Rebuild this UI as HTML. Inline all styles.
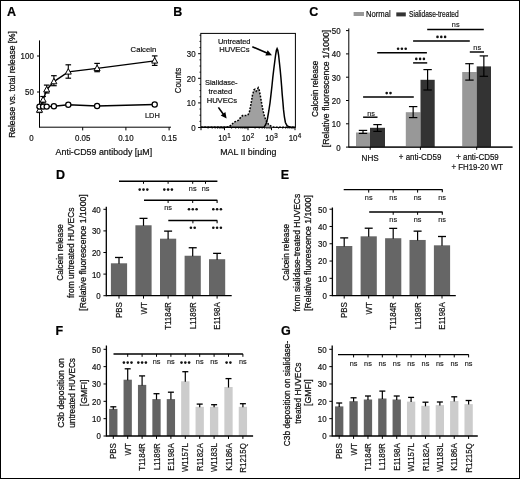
<!DOCTYPE html>
<html><head><meta charset="utf-8"><style>
html,body{margin:0;padding:0;background:#fff;}
body{width:520px;height:479px;overflow:hidden;}
svg{display:block;font-family:"Liberation Sans", sans-serif;will-change:transform;}
</style></head><body>
<svg width="520" height="479" viewBox="0 0 520 479">
<rect x="0" y="0" width="520" height="479" fill="#fff"/>
<rect x="0.5" y="0.5" width="519" height="478" fill="none" stroke="#000" stroke-width="1"/>
<text x="6.90" y="15.70" font-size="12.5" text-anchor="start" font-weight="bold" stroke="#000" stroke-width="0.2" fill="#000" >A</text>
<text x="173.30" y="15.50" font-size="12.5" text-anchor="start" font-weight="bold" stroke="#000" stroke-width="0.2" fill="#000" >B</text>
<text x="309.20" y="15.70" font-size="12.5" text-anchor="start" font-weight="bold" stroke="#000" stroke-width="0.2" fill="#000" >C</text>
<text x="56.00" y="178.70" font-size="12.5" text-anchor="start" font-weight="bold" stroke="#000" stroke-width="0.2" fill="#000" >D</text>
<text x="280.80" y="178.80" font-size="12.5" text-anchor="start" font-weight="bold" stroke="#000" stroke-width="0.2" fill="#000" >E</text>
<text x="55.60" y="334.60" font-size="12.5" text-anchor="start" font-weight="bold" stroke="#000" stroke-width="0.2" fill="#000" >F</text>
<text x="280.90" y="334.70" font-size="12.5" text-anchor="start" font-weight="bold" stroke="#000" stroke-width="0.2" fill="#000" >G</text>
<line x1="39.50" y1="40.40" x2="39.50" y2="127.70" stroke="#000" stroke-width="1" />
<line x1="39.50" y1="127.20" x2="171.00" y2="127.20" stroke="#000" stroke-width="1" />
<line x1="37.00" y1="56.00" x2="39.50" y2="56.00" stroke="#000" stroke-width="1" />
<text x="33.80" y="59.40" font-size="8.8" text-anchor="end" textLength="13.21" lengthAdjust="spacingAndGlyphs" stroke="#111" stroke-width="0.2" fill="#111" >100</text>
<line x1="37.00" y1="92.00" x2="39.50" y2="92.00" stroke="#000" stroke-width="1" />
<text x="33.80" y="95.40" font-size="8.8" text-anchor="end" textLength="8.81" lengthAdjust="spacingAndGlyphs" stroke="#111" stroke-width="0.2" fill="#111" >50</text>
<line x1="82.70" y1="127.20" x2="82.70" y2="130.40" stroke="#000" stroke-width="1" />
<text x="82.70" y="141.00" font-size="8.8" text-anchor="middle" textLength="15.41" lengthAdjust="spacingAndGlyphs" stroke="#111" stroke-width="0.2" fill="#111" >0.05</text>
<line x1="125.90" y1="127.20" x2="125.90" y2="130.40" stroke="#000" stroke-width="1" />
<text x="125.90" y="141.00" font-size="8.8" text-anchor="middle" textLength="15.41" lengthAdjust="spacingAndGlyphs" stroke="#111" stroke-width="0.2" fill="#111" >0.10</text>
<line x1="169.10" y1="127.20" x2="169.10" y2="130.40" stroke="#000" stroke-width="1" />
<text x="169.10" y="141.00" font-size="8.8" text-anchor="middle" textLength="15.41" lengthAdjust="spacingAndGlyphs" stroke="#111" stroke-width="0.2" fill="#111" >0.15</text>
<text x="31.50" y="141.00" font-size="8.8" text-anchor="middle" textLength="4.40" lengthAdjust="spacingAndGlyphs" stroke="#111" stroke-width="0.2" fill="#111" >0</text>
<text x="55.60" y="154.80" font-size="8.8" text-anchor="start" textLength="96.60" lengthAdjust="spacingAndGlyphs" stroke="#111" stroke-width="0.2" fill="#111" >Anti-CD59 antibody [µM]</text>
<text transform="translate(14.90,84.50) rotate(-90)" x="0" y="0" font-size="9.2" text-anchor="middle" textLength="106.60" lengthAdjust="spacingAndGlyphs" stroke="#111" stroke-width="0.27" fill="#111">Release vs. total release [%]</text>
<polyline fill="none" stroke="#000" stroke-width="1.4" points="39.50,106.60 43.10,106.60 46.70,106.60 53.90,106.20 68.30,104.70 97.10,106.00 154.70,104.50"/>
<polyline fill="none" stroke="#000" stroke-width="1.4" points="39.50,110.00 43.10,99.90 46.70,89.70 53.90,81.60 68.30,71.90 97.10,68.40 154.70,60.90"/>
<line x1="39.50" y1="107.50" x2="39.50" y2="112.50" stroke="#000" stroke-width="1.1" />
<line x1="36.70" y1="107.50" x2="42.30" y2="107.50" stroke="#000" stroke-width="1.2" />
<line x1="36.70" y1="112.50" x2="42.30" y2="112.50" stroke="#000" stroke-width="1.2" />
<path d="M39.50,106.70 L42.50,112.20 L36.50,112.20 Z" fill="#fff" stroke="#000" stroke-width="1.0"/>
<line x1="43.10" y1="96.50" x2="43.10" y2="103.00" stroke="#000" stroke-width="1.1" />
<line x1="40.30" y1="96.50" x2="45.90" y2="96.50" stroke="#000" stroke-width="1.2" />
<line x1="40.30" y1="103.00" x2="45.90" y2="103.00" stroke="#000" stroke-width="1.2" />
<path d="M43.10,96.60 L46.10,102.10 L40.10,102.10 Z" fill="#fff" stroke="#000" stroke-width="1.0"/>
<line x1="46.70" y1="85.10" x2="46.70" y2="93.00" stroke="#000" stroke-width="1.1" />
<line x1="43.90" y1="85.10" x2="49.50" y2="85.10" stroke="#000" stroke-width="1.2" />
<line x1="43.90" y1="93.00" x2="49.50" y2="93.00" stroke="#000" stroke-width="1.2" />
<path d="M46.70,86.40 L49.70,91.90 L43.70,91.90 Z" fill="#fff" stroke="#000" stroke-width="1.0"/>
<line x1="53.90" y1="75.70" x2="53.90" y2="85.70" stroke="#000" stroke-width="1.1" />
<line x1="51.10" y1="75.70" x2="56.70" y2="75.70" stroke="#000" stroke-width="1.2" />
<line x1="51.10" y1="85.70" x2="56.70" y2="85.70" stroke="#000" stroke-width="1.2" />
<path d="M53.90,78.30 L56.90,83.80 L50.90,83.80 Z" fill="#fff" stroke="#000" stroke-width="1.0"/>
<line x1="68.30" y1="64.80" x2="68.30" y2="78.20" stroke="#000" stroke-width="1.1" />
<line x1="65.50" y1="64.80" x2="71.10" y2="64.80" stroke="#000" stroke-width="1.2" />
<line x1="65.50" y1="78.20" x2="71.10" y2="78.20" stroke="#000" stroke-width="1.2" />
<path d="M68.30,68.60 L71.30,74.10 L65.30,74.10 Z" fill="#fff" stroke="#000" stroke-width="1.0"/>
<line x1="97.10" y1="63.40" x2="97.10" y2="71.70" stroke="#000" stroke-width="1.1" />
<line x1="94.30" y1="63.40" x2="99.90" y2="63.40" stroke="#000" stroke-width="1.2" />
<line x1="94.30" y1="71.70" x2="99.90" y2="71.70" stroke="#000" stroke-width="1.2" />
<path d="M97.10,65.10 L100.10,70.60 L94.10,70.60 Z" fill="#fff" stroke="#000" stroke-width="1.0"/>
<line x1="154.70" y1="55.90" x2="154.70" y2="65.40" stroke="#000" stroke-width="1.1" />
<line x1="151.90" y1="55.90" x2="157.50" y2="55.90" stroke="#000" stroke-width="1.2" />
<line x1="151.90" y1="65.40" x2="157.50" y2="65.40" stroke="#000" stroke-width="1.2" />
<path d="M154.70,57.60 L157.70,63.10 L151.70,63.10 Z" fill="#fff" stroke="#000" stroke-width="1.0"/>
<circle cx="39.50" cy="106.60" r="2.6" fill="#fff" stroke="#000" stroke-width="1.25"/>
<circle cx="43.10" cy="106.60" r="2.6" fill="#fff" stroke="#000" stroke-width="1.25"/>
<circle cx="46.70" cy="106.60" r="2.6" fill="#fff" stroke="#000" stroke-width="1.25"/>
<circle cx="53.90" cy="106.20" r="2.6" fill="#fff" stroke="#000" stroke-width="1.25"/>
<circle cx="68.30" cy="104.70" r="2.6" fill="#fff" stroke="#000" stroke-width="1.25"/>
<circle cx="97.10" cy="106.00" r="2.6" fill="#fff" stroke="#000" stroke-width="1.25"/>
<circle cx="154.70" cy="104.50" r="2.6" fill="#fff" stroke="#000" stroke-width="1.25"/>
<text x="130.60" y="51.70" font-size="7.8" text-anchor="start" textLength="25.60" lengthAdjust="spacingAndGlyphs" stroke="#111" stroke-width="0.2" fill="#111" >Calcein</text>
<text x="145.00" y="117.90" font-size="7.8" text-anchor="start" textLength="14.80" lengthAdjust="spacingAndGlyphs" stroke="#111" stroke-width="0.2" fill="#111" >LDH</text>
<rect x="200.8" y="33.4" width="94.60" height="94.00" fill="none" stroke="#000" stroke-width="1"/>
<line x1="198.10" y1="127.50" x2="200.80" y2="127.50" stroke="#000" stroke-width="1" />
<line x1="199.50" y1="121.35" x2="200.80" y2="121.35" stroke="#000" stroke-width="0.9" />
<line x1="199.50" y1="115.20" x2="200.80" y2="115.20" stroke="#000" stroke-width="0.9" />
<line x1="199.50" y1="109.05" x2="200.80" y2="109.05" stroke="#000" stroke-width="0.9" />
<line x1="198.10" y1="102.90" x2="200.80" y2="102.90" stroke="#000" stroke-width="1" />
<line x1="199.50" y1="96.75" x2="200.80" y2="96.75" stroke="#000" stroke-width="0.9" />
<line x1="199.50" y1="90.60" x2="200.80" y2="90.60" stroke="#000" stroke-width="0.9" />
<line x1="199.50" y1="84.45" x2="200.80" y2="84.45" stroke="#000" stroke-width="0.9" />
<line x1="198.10" y1="78.30" x2="200.80" y2="78.30" stroke="#000" stroke-width="1" />
<line x1="199.50" y1="72.15" x2="200.80" y2="72.15" stroke="#000" stroke-width="0.9" />
<line x1="199.50" y1="66.00" x2="200.80" y2="66.00" stroke="#000" stroke-width="0.9" />
<line x1="199.50" y1="59.85" x2="200.80" y2="59.85" stroke="#000" stroke-width="0.9" />
<line x1="198.10" y1="53.70" x2="200.80" y2="53.70" stroke="#000" stroke-width="1" />
<line x1="199.50" y1="47.55" x2="200.80" y2="47.55" stroke="#000" stroke-width="0.9" />
<line x1="199.50" y1="41.40" x2="200.80" y2="41.40" stroke="#000" stroke-width="0.9" />
<line x1="199.50" y1="35.25" x2="200.80" y2="35.25" stroke="#000" stroke-width="0.9" />
<text x="195.60" y="130.90" font-size="8.8" text-anchor="end" textLength="4.40" lengthAdjust="spacingAndGlyphs" stroke="#111" stroke-width="0.2" fill="#111" >0</text>
<text x="195.60" y="106.30" font-size="8.8" text-anchor="end" textLength="8.81" lengthAdjust="spacingAndGlyphs" stroke="#111" stroke-width="0.2" fill="#111" >10</text>
<text x="195.60" y="81.70" font-size="8.8" text-anchor="end" textLength="8.81" lengthAdjust="spacingAndGlyphs" stroke="#111" stroke-width="0.2" fill="#111" >20</text>
<text x="195.60" y="57.10" font-size="8.8" text-anchor="end" textLength="8.81" lengthAdjust="spacingAndGlyphs" stroke="#111" stroke-width="0.2" fill="#111" >30</text>
<line x1="201.00" y1="127.40" x2="201.00" y2="130.20" stroke="#000" stroke-width="1" />
<line x1="208.07" y1="127.40" x2="208.07" y2="128.70" stroke="#000" stroke-width="0.8" />
<line x1="212.21" y1="127.40" x2="212.21" y2="128.70" stroke="#000" stroke-width="0.8" />
<line x1="215.15" y1="127.40" x2="215.15" y2="128.70" stroke="#000" stroke-width="0.8" />
<line x1="217.43" y1="127.40" x2="217.43" y2="128.70" stroke="#000" stroke-width="0.8" />
<line x1="219.29" y1="127.40" x2="219.29" y2="128.70" stroke="#000" stroke-width="0.8" />
<line x1="220.86" y1="127.40" x2="220.86" y2="128.70" stroke="#000" stroke-width="0.8" />
<line x1="222.22" y1="127.40" x2="222.22" y2="128.70" stroke="#000" stroke-width="0.8" />
<line x1="223.42" y1="127.40" x2="223.42" y2="128.70" stroke="#000" stroke-width="0.8" />
<line x1="224.50" y1="127.40" x2="224.50" y2="130.20" stroke="#000" stroke-width="1" />
<line x1="231.57" y1="127.40" x2="231.57" y2="128.70" stroke="#000" stroke-width="0.8" />
<line x1="235.71" y1="127.40" x2="235.71" y2="128.70" stroke="#000" stroke-width="0.8" />
<line x1="238.65" y1="127.40" x2="238.65" y2="128.70" stroke="#000" stroke-width="0.8" />
<line x1="240.93" y1="127.40" x2="240.93" y2="128.70" stroke="#000" stroke-width="0.8" />
<line x1="242.79" y1="127.40" x2="242.79" y2="128.70" stroke="#000" stroke-width="0.8" />
<line x1="244.36" y1="127.40" x2="244.36" y2="128.70" stroke="#000" stroke-width="0.8" />
<line x1="245.72" y1="127.40" x2="245.72" y2="128.70" stroke="#000" stroke-width="0.8" />
<line x1="246.92" y1="127.40" x2="246.92" y2="128.70" stroke="#000" stroke-width="0.8" />
<line x1="248.00" y1="127.40" x2="248.00" y2="130.20" stroke="#000" stroke-width="1" />
<line x1="255.07" y1="127.40" x2="255.07" y2="128.70" stroke="#000" stroke-width="0.8" />
<line x1="259.21" y1="127.40" x2="259.21" y2="128.70" stroke="#000" stroke-width="0.8" />
<line x1="262.15" y1="127.40" x2="262.15" y2="128.70" stroke="#000" stroke-width="0.8" />
<line x1="264.43" y1="127.40" x2="264.43" y2="128.70" stroke="#000" stroke-width="0.8" />
<line x1="266.29" y1="127.40" x2="266.29" y2="128.70" stroke="#000" stroke-width="0.8" />
<line x1="267.86" y1="127.40" x2="267.86" y2="128.70" stroke="#000" stroke-width="0.8" />
<line x1="269.22" y1="127.40" x2="269.22" y2="128.70" stroke="#000" stroke-width="0.8" />
<line x1="270.42" y1="127.40" x2="270.42" y2="128.70" stroke="#000" stroke-width="0.8" />
<line x1="271.50" y1="127.40" x2="271.50" y2="130.20" stroke="#000" stroke-width="1" />
<line x1="278.57" y1="127.40" x2="278.57" y2="128.70" stroke="#000" stroke-width="0.8" />
<line x1="282.71" y1="127.40" x2="282.71" y2="128.70" stroke="#000" stroke-width="0.8" />
<line x1="285.65" y1="127.40" x2="285.65" y2="128.70" stroke="#000" stroke-width="0.8" />
<line x1="287.93" y1="127.40" x2="287.93" y2="128.70" stroke="#000" stroke-width="0.8" />
<line x1="289.79" y1="127.40" x2="289.79" y2="128.70" stroke="#000" stroke-width="0.8" />
<line x1="291.36" y1="127.40" x2="291.36" y2="128.70" stroke="#000" stroke-width="0.8" />
<line x1="292.72" y1="127.40" x2="292.72" y2="128.70" stroke="#000" stroke-width="0.8" />
<line x1="293.92" y1="127.40" x2="293.92" y2="128.70" stroke="#000" stroke-width="0.8" />
<line x1="295.00" y1="127.40" x2="295.00" y2="130.20" stroke="#000" stroke-width="1" />
<text x="222.60" y="141.2" font-size="8.8" text-anchor="middle" textLength="8.81" lengthAdjust="spacingAndGlyphs" fill="#111" stroke="#111" stroke-width="0.2">10</text>
<text x="228.90" y="137.8" font-size="6.3" text-anchor="middle" fill="#111" stroke="#111" stroke-width="0.2">1</text>
<text x="246.10" y="141.2" font-size="8.8" text-anchor="middle" textLength="8.81" lengthAdjust="spacingAndGlyphs" fill="#111" stroke="#111" stroke-width="0.2">10</text>
<text x="252.40" y="137.8" font-size="6.3" text-anchor="middle" fill="#111" stroke="#111" stroke-width="0.2">2</text>
<text x="269.60" y="141.2" font-size="8.8" text-anchor="middle" textLength="8.81" lengthAdjust="spacingAndGlyphs" fill="#111" stroke="#111" stroke-width="0.2">10</text>
<text x="275.90" y="137.8" font-size="6.3" text-anchor="middle" fill="#111" stroke="#111" stroke-width="0.2">3</text>
<text x="293.10" y="141.2" font-size="8.8" text-anchor="middle" textLength="8.81" lengthAdjust="spacingAndGlyphs" fill="#111" stroke="#111" stroke-width="0.2">10</text>
<text x="299.40" y="137.8" font-size="6.3" text-anchor="middle" fill="#111" stroke="#111" stroke-width="0.2">4</text>
<text x="220.20" y="155.00" font-size="8.8" text-anchor="start" textLength="56.20" lengthAdjust="spacingAndGlyphs" stroke="#111" stroke-width="0.2" fill="#111" >MAL II binding</text>
<text transform="translate(181.30,80.50) rotate(-90)" x="0" y="0" font-size="8.5" text-anchor="middle" textLength="25.60" lengthAdjust="spacingAndGlyphs" stroke="#111" stroke-width="0.2" fill="#111">Counts</text>
<polygon points="201,127.3 226,127.3 229.5,126.5 232,124.2 234,122.2 236.5,121.2 238.5,120.2 240.5,117.5 242.5,115.6 246.5,115.6 248.2,114.5 249.5,111.5 251,104 252.5,95 254,89.8 255,89.3 256.2,91.2 257.3,89.5 258.2,87.8 259.2,90 260.3,95.5 261.6,103 263,110.5 264.5,116.5 266.5,121.5 269,125 272,126.8 275,127.3 295,127.3" fill="#a0a0a0" stroke="none"/>
<polyline points="201,127.3 226,127.3 229.5,126.5 232,124.2 234,122.2 236.5,121.2 238.5,120.2 240.5,117.5 242.5,115.6 246.5,115.6 248.2,114.5 249.5,111.5 251,104 252.5,95 254,89.8 255,89.3 256.2,91.2 257.3,89.5 258.2,87.8 259.2,90 260.3,95.5 261.6,103 263,110.5 264.5,116.5 266.5,121.5 269,125 272,126.8 275,127.3 295,127.3" fill="none" stroke="#000" stroke-width="1.5" stroke-dasharray="1.8,1.4"/>
<polyline points="201,127.3 264,127.2 265.5,125 266.5,122.5 267.5,118.5 268.8,111 270,103 271,94.4 272,85.5 272.8,77.5 273.8,69 274.7,62 275.6,55 276.4,50.3 277.1,48.6 277.8,50.3 278.6,55 279.4,62.5 280.2,70 280.9,77.5 281.6,86 282.2,94.4 282.9,102 283.5,109.4 284.4,117 285.4,122.5 287,125.6 289,126.8 291,127.3 295,127.3" fill="none" stroke="#000" stroke-width="1.5"/>
<text x="234.20" y="43.50" font-size="7.9" text-anchor="middle" textLength="32.60" lengthAdjust="spacingAndGlyphs" stroke="#111" stroke-width="0.2" fill="#111" >Untreated</text>
<text x="234.40" y="52.40" font-size="7.9" text-anchor="middle" textLength="30.40" lengthAdjust="spacingAndGlyphs" stroke="#111" stroke-width="0.2" fill="#111" >HUVECs</text>
<text x="221.30" y="84.90" font-size="7.9" text-anchor="middle" textLength="32.60" lengthAdjust="spacingAndGlyphs" stroke="#111" stroke-width="0.2" fill="#111" >Sialidase-</text>
<text x="220.40" y="93.60" font-size="7.9" text-anchor="middle" textLength="24.00" lengthAdjust="spacingAndGlyphs" stroke="#111" stroke-width="0.2" fill="#111" >treated</text>
<text x="221.85" y="102.80" font-size="7.9" text-anchor="middle" textLength="30.40" lengthAdjust="spacingAndGlyphs" stroke="#111" stroke-width="0.2" fill="#111" >HUVECs</text>
<line x1="252.30" y1="46.70" x2="266.95" y2="53.02" stroke="#000" stroke-width="1.6" />
<path d="M272.00,55.20 L265.34,55.49 L267.64,50.16 Z" fill="#000"/>
<line x1="218.40" y1="107.40" x2="223.35" y2="114.16" stroke="#000" stroke-width="1.6" />
<path d="M226.60,118.60 L220.72,115.47 L225.40,112.05 Z" fill="#000"/>
<line x1="348.80" y1="28.40" x2="348.80" y2="147.60" stroke="#000" stroke-width="1" />
<line x1="348.80" y1="147.10" x2="512.50" y2="147.10" stroke="#000" stroke-width="1" />
<line x1="346.00" y1="147.10" x2="348.80" y2="147.10" stroke="#000" stroke-width="1" />
<text x="340.60" y="150.50" font-size="8.8" text-anchor="end" textLength="4.40" lengthAdjust="spacingAndGlyphs" stroke="#111" stroke-width="0.2" fill="#111" >0</text>
<line x1="346.00" y1="123.80" x2="348.80" y2="123.80" stroke="#000" stroke-width="1" />
<text x="340.60" y="127.20" font-size="8.8" text-anchor="end" textLength="8.81" lengthAdjust="spacingAndGlyphs" stroke="#111" stroke-width="0.2" fill="#111" >10</text>
<line x1="346.00" y1="100.50" x2="348.80" y2="100.50" stroke="#000" stroke-width="1" />
<text x="340.60" y="103.90" font-size="8.8" text-anchor="end" textLength="8.81" lengthAdjust="spacingAndGlyphs" stroke="#111" stroke-width="0.2" fill="#111" >20</text>
<line x1="346.00" y1="77.20" x2="348.80" y2="77.20" stroke="#000" stroke-width="1" />
<text x="340.60" y="80.60" font-size="8.8" text-anchor="end" textLength="8.81" lengthAdjust="spacingAndGlyphs" stroke="#111" stroke-width="0.2" fill="#111" >30</text>
<line x1="346.00" y1="53.90" x2="348.80" y2="53.90" stroke="#000" stroke-width="1" />
<text x="340.60" y="57.30" font-size="8.8" text-anchor="end" textLength="8.81" lengthAdjust="spacingAndGlyphs" stroke="#111" stroke-width="0.2" fill="#111" >40</text>
<line x1="346.00" y1="30.60" x2="348.80" y2="30.60" stroke="#000" stroke-width="1" />
<text x="340.60" y="34.00" font-size="8.8" text-anchor="end" textLength="8.81" lengthAdjust="spacingAndGlyphs" stroke="#111" stroke-width="0.2" fill="#111" >50</text>
<rect x="356.00" y="132.50" width="14.00" height="14.60" fill="#989898" />
<rect x="370.00" y="127.80" width="15.00" height="19.30" fill="#333333" />
<rect x="405.80" y="112.20" width="14.70" height="34.90" fill="#989898" />
<rect x="420.50" y="79.80" width="14.20" height="67.30" fill="#333333" />
<rect x="462.20" y="72.00" width="14.50" height="75.10" fill="#989898" />
<rect x="476.70" y="66.40" width="14.30" height="80.70" fill="#333333" />
<line x1="363.00" y1="130.40" x2="363.00" y2="133.40" stroke="#000" stroke-width="1.2" />
<line x1="358.80" y1="130.40" x2="367.20" y2="130.40" stroke="#000" stroke-width="1.2" />
<line x1="358.80" y1="133.40" x2="367.20" y2="133.40" stroke="#000" stroke-width="1.2" />
<line x1="377.50" y1="124.60" x2="377.50" y2="131.40" stroke="#000" stroke-width="1.2" />
<line x1="373.30" y1="124.60" x2="381.70" y2="124.60" stroke="#000" stroke-width="1.2" />
<line x1="373.30" y1="131.40" x2="381.70" y2="131.40" stroke="#000" stroke-width="1.2" />
<line x1="413.15" y1="106.60" x2="413.15" y2="117.60" stroke="#000" stroke-width="1.2" />
<line x1="408.95" y1="106.60" x2="417.35" y2="106.60" stroke="#000" stroke-width="1.2" />
<line x1="408.95" y1="117.60" x2="417.35" y2="117.60" stroke="#000" stroke-width="1.2" />
<line x1="427.60" y1="69.60" x2="427.60" y2="90.00" stroke="#000" stroke-width="1.2" />
<line x1="423.40" y1="69.60" x2="431.80" y2="69.60" stroke="#000" stroke-width="1.2" />
<line x1="423.40" y1="90.00" x2="431.80" y2="90.00" stroke="#000" stroke-width="1.2" />
<line x1="469.45" y1="63.70" x2="469.45" y2="80.10" stroke="#000" stroke-width="1.2" />
<line x1="465.25" y1="63.70" x2="473.65" y2="63.70" stroke="#000" stroke-width="1.2" />
<line x1="465.25" y1="80.10" x2="473.65" y2="80.10" stroke="#000" stroke-width="1.2" />
<line x1="483.85" y1="55.90" x2="483.85" y2="76.30" stroke="#000" stroke-width="1.2" />
<line x1="479.65" y1="55.90" x2="488.05" y2="55.90" stroke="#000" stroke-width="1.2" />
<line x1="479.65" y1="76.30" x2="488.05" y2="76.30" stroke="#000" stroke-width="1.2" />
<line x1="348.80" y1="147.10" x2="512.50" y2="147.10" stroke="#000" stroke-width="1" />
<line x1="370.20" y1="147.10" x2="370.20" y2="149.80" stroke="#000" stroke-width="1" />
<line x1="420.40" y1="147.10" x2="420.40" y2="149.80" stroke="#000" stroke-width="1" />
<line x1="476.70" y1="147.10" x2="476.70" y2="149.80" stroke="#000" stroke-width="1" />
<text x="370.20" y="160.50" font-size="8.8" text-anchor="middle" textLength="17.20" lengthAdjust="spacingAndGlyphs" stroke="#111" stroke-width="0.2" fill="#111" >NHS</text>
<text x="420.10" y="160.30" font-size="8.8" text-anchor="middle" textLength="42.60" lengthAdjust="spacingAndGlyphs" stroke="#111" stroke-width="0.2" fill="#111" >+ anti-CD59</text>
<text x="477.50" y="160.10" font-size="8.8" text-anchor="middle" textLength="42.60" lengthAdjust="spacingAndGlyphs" stroke="#111" stroke-width="0.2" fill="#111" >+ anti-CD59</text>
<text x="477.30" y="169.90" font-size="8.8" text-anchor="middle" textLength="51.60" lengthAdjust="spacingAndGlyphs" stroke="#111" stroke-width="0.2" fill="#111" >+ FH19-20 WT</text>
<rect x="353.60" y="12.00" width="10.40" height="4.00" fill="#989898" />
<text x="366.00" y="16.90" font-size="8.5" text-anchor="start" textLength="24.60" lengthAdjust="spacingAndGlyphs" stroke="#111" stroke-width="0.2" fill="#111" >Normal</text>
<rect x="396.30" y="12.40" width="9.50" height="4.00" fill="#333333" />
<text x="409.00" y="16.90" font-size="8.5" text-anchor="start" textLength="49.60" lengthAdjust="spacingAndGlyphs" stroke="#111" stroke-width="0.2" fill="#111" >Sialidase-treated</text>
<line x1="363.10" y1="117.20" x2="377.50" y2="117.20" stroke="#000" stroke-width="1.45" />
<text x="371.00" y="115.70" font-size="7.3" text-anchor="middle" stroke="#111" stroke-width="0.12" fill="#111" >ns</text>
<line x1="363.10" y1="96.90" x2="413.80" y2="96.90" stroke="#000" stroke-width="1.45" />
<circle cx="386.70" cy="93.10" r="1.3" fill="#111"/>
<circle cx="390.50" cy="93.10" r="1.3" fill="#111"/>
<line x1="413.10" y1="62.90" x2="427.20" y2="62.90" stroke="#000" stroke-width="1.45" />
<circle cx="416.30" cy="58.90" r="1.3" fill="#111"/>
<circle cx="420.10" cy="58.90" r="1.3" fill="#111"/>
<circle cx="423.90" cy="58.90" r="1.3" fill="#111"/>
<line x1="377.20" y1="52.80" x2="426.90" y2="52.80" stroke="#000" stroke-width="1.45" />
<circle cx="398.10" cy="48.80" r="1.3" fill="#111"/>
<circle cx="401.90" cy="48.80" r="1.3" fill="#111"/>
<circle cx="405.70" cy="48.80" r="1.3" fill="#111"/>
<line x1="413.10" y1="40.90" x2="469.80" y2="40.90" stroke="#000" stroke-width="1.45" />
<circle cx="437.50" cy="36.90" r="1.3" fill="#111"/>
<circle cx="441.30" cy="36.90" r="1.3" fill="#111"/>
<circle cx="445.10" cy="36.90" r="1.3" fill="#111"/>
<line x1="427.20" y1="29.40" x2="483.80" y2="29.40" stroke="#000" stroke-width="1.45" />
<text x="455.70" y="26.90" font-size="7.3" text-anchor="middle" stroke="#111" stroke-width="0.12" fill="#111" >ns</text>
<line x1="469.80" y1="52.00" x2="484.00" y2="52.00" stroke="#000" stroke-width="1.45" />
<text x="477.20" y="49.60" font-size="7.3" text-anchor="middle" stroke="#111" stroke-width="0.12" fill="#111" >ns</text>
<text transform="translate(317.60,88.80) rotate(-90)" x="0" y="0" font-size="9.2" text-anchor="middle" textLength="56.40" lengthAdjust="spacingAndGlyphs" stroke="#111" stroke-width="0.27" fill="#111">Calcein release</text>
<text transform="translate(329.40,88.50) rotate(-90)" x="0" y="0" font-size="9.2" text-anchor="middle" textLength="117.60" lengthAdjust="spacingAndGlyphs" stroke="#111" stroke-width="0.27" fill="#111">[Relative fluorescence 1/1000]</text>
<line x1="106.30" y1="206.70" x2="106.30" y2="296.30" stroke="#000" stroke-width="1.3" />
<line x1="103.40" y1="295.70" x2="106.30" y2="295.70" stroke="#000" stroke-width="1" />
<text x="100.70" y="299.10" font-size="8.8" text-anchor="end" textLength="4.40" lengthAdjust="spacingAndGlyphs" stroke="#111" stroke-width="0.2" fill="#111" >0</text>
<line x1="103.40" y1="274.10" x2="106.30" y2="274.10" stroke="#000" stroke-width="1" />
<text x="100.70" y="277.50" font-size="8.8" text-anchor="end" textLength="8.81" lengthAdjust="spacingAndGlyphs" stroke="#111" stroke-width="0.2" fill="#111" >10</text>
<line x1="103.40" y1="252.50" x2="106.30" y2="252.50" stroke="#000" stroke-width="1" />
<text x="100.70" y="255.90" font-size="8.8" text-anchor="end" textLength="8.81" lengthAdjust="spacingAndGlyphs" stroke="#111" stroke-width="0.2" fill="#111" >20</text>
<line x1="103.40" y1="230.90" x2="106.30" y2="230.90" stroke="#000" stroke-width="1" />
<text x="100.70" y="234.30" font-size="8.8" text-anchor="end" textLength="8.81" lengthAdjust="spacingAndGlyphs" stroke="#111" stroke-width="0.2" fill="#111" >30</text>
<line x1="103.40" y1="209.30" x2="106.30" y2="209.30" stroke="#000" stroke-width="1" />
<text x="100.70" y="212.70" font-size="8.8" text-anchor="end" textLength="8.81" lengthAdjust="spacingAndGlyphs" stroke="#111" stroke-width="0.2" fill="#111" >40</text>
<rect x="110.90" y="263.30" width="16.20" height="32.40" fill="#666666" />
<rect x="135.40" y="225.28" width="16.20" height="70.42" fill="#666666" />
<rect x="160.00" y="238.68" width="16.20" height="57.02" fill="#666666" />
<rect x="184.60" y="255.74" width="16.20" height="39.96" fill="#666666" />
<rect x="209.00" y="259.20" width="16.20" height="36.50" fill="#666666" />
<line x1="119.00" y1="257.47" x2="119.00" y2="263.80" stroke="#000" stroke-width="1.2" />
<line x1="115.00" y1="257.47" x2="123.00" y2="257.47" stroke="#000" stroke-width="1.3" />
<line x1="143.50" y1="218.37" x2="143.50" y2="225.78" stroke="#000" stroke-width="1.2" />
<line x1="139.50" y1="218.37" x2="147.50" y2="218.37" stroke="#000" stroke-width="1.3" />
<line x1="168.10" y1="231.12" x2="168.10" y2="239.18" stroke="#000" stroke-width="1.2" />
<line x1="164.10" y1="231.12" x2="172.10" y2="231.12" stroke="#000" stroke-width="1.3" />
<line x1="192.70" y1="247.75" x2="192.70" y2="256.24" stroke="#000" stroke-width="1.2" />
<line x1="188.70" y1="247.75" x2="196.70" y2="247.75" stroke="#000" stroke-width="1.3" />
<line x1="217.10" y1="253.36" x2="217.10" y2="259.70" stroke="#000" stroke-width="1.2" />
<line x1="213.10" y1="253.36" x2="221.10" y2="253.36" stroke="#000" stroke-width="1.3" />
<line x1="106.30" y1="295.70" x2="231.70" y2="295.70" stroke="#000" stroke-width="1.3" />
<line x1="119.00" y1="295.70" x2="119.00" y2="298.60" stroke="#000" stroke-width="1" />
<line x1="143.50" y1="295.70" x2="143.50" y2="298.60" stroke="#000" stroke-width="1" />
<line x1="168.10" y1="295.70" x2="168.10" y2="298.60" stroke="#000" stroke-width="1" />
<line x1="192.70" y1="295.70" x2="192.70" y2="298.60" stroke="#000" stroke-width="1" />
<line x1="217.10" y1="295.70" x2="217.10" y2="298.60" stroke="#000" stroke-width="1" />
<text transform="translate(122.10,302.20) rotate(-90)" x="0" y="0" font-size="8.8" text-anchor="end" textLength="15.85" lengthAdjust="spacingAndGlyphs" stroke="#111" stroke-width="0.2" fill="#111">PBS</text>
<text transform="translate(146.60,302.20) rotate(-90)" x="0" y="0" font-size="8.8" text-anchor="end" textLength="12.31" lengthAdjust="spacingAndGlyphs" stroke="#111" stroke-width="0.2" fill="#111">WT</text>
<text transform="translate(171.20,302.20) rotate(-90)" x="0" y="0" font-size="8.8" text-anchor="end" textLength="27.59" lengthAdjust="spacingAndGlyphs" stroke="#111" stroke-width="0.2" fill="#111">T1184R</text>
<text transform="translate(195.80,302.20) rotate(-90)" x="0" y="0" font-size="8.8" text-anchor="end" textLength="27.15" lengthAdjust="spacingAndGlyphs" stroke="#111" stroke-width="0.2" fill="#111">L1189R</text>
<text transform="translate(220.20,302.20) rotate(-90)" x="0" y="0" font-size="8.8" text-anchor="end" textLength="27.60" lengthAdjust="spacingAndGlyphs" stroke="#111" stroke-width="0.2" fill="#111">E1198A</text>
<line x1="119.00" y1="181.20" x2="217.40" y2="181.20" stroke="#000" stroke-width="1.45" />
<line x1="143.50" y1="181.00" x2="143.50" y2="183.80" stroke="#000" stroke-width="1.0" />
<line x1="168.10" y1="181.00" x2="168.10" y2="183.80" stroke="#000" stroke-width="1.0" />
<line x1="192.70" y1="181.00" x2="192.70" y2="183.80" stroke="#000" stroke-width="1.0" />
<line x1="205.50" y1="181.00" x2="205.50" y2="183.80" stroke="#000" stroke-width="1.0" />
<circle cx="139.70" cy="189.60" r="1.3" fill="#111"/>
<circle cx="143.50" cy="189.60" r="1.3" fill="#111"/>
<circle cx="147.30" cy="189.60" r="1.3" fill="#111"/>
<circle cx="164.30" cy="189.60" r="1.3" fill="#111"/>
<circle cx="168.10" cy="189.60" r="1.3" fill="#111"/>
<circle cx="171.90" cy="189.60" r="1.3" fill="#111"/>
<text x="192.70" y="191.20" font-size="7.3" text-anchor="middle" stroke="#111" stroke-width="0.12" fill="#111" >ns</text>
<text x="205.50" y="191.20" font-size="7.3" text-anchor="middle" stroke="#111" stroke-width="0.12" fill="#111" >ns</text>
<line x1="144.00" y1="200.20" x2="217.30" y2="200.20" stroke="#000" stroke-width="1.45" />
<line x1="168.10" y1="200.20" x2="168.10" y2="203.00" stroke="#000" stroke-width="1.0" />
<line x1="192.70" y1="200.20" x2="192.70" y2="203.00" stroke="#000" stroke-width="1.0" />
<line x1="217.10" y1="200.20" x2="217.10" y2="203.00" stroke="#000" stroke-width="1.1" />
<text x="168.10" y="210.40" font-size="7.3" text-anchor="middle" stroke="#111" stroke-width="0.12" fill="#111" >ns</text>
<circle cx="189.00" cy="209.20" r="1.3" fill="#111"/>
<circle cx="192.80" cy="209.20" r="1.3" fill="#111"/>
<circle cx="196.60" cy="209.20" r="1.3" fill="#111"/>
<circle cx="213.30" cy="209.20" r="1.3" fill="#111"/>
<circle cx="217.10" cy="209.20" r="1.3" fill="#111"/>
<circle cx="220.90" cy="209.20" r="1.3" fill="#111"/>
<line x1="168.30" y1="220.50" x2="217.30" y2="220.50" stroke="#000" stroke-width="1.45" />
<line x1="192.90" y1="220.50" x2="192.90" y2="223.30" stroke="#000" stroke-width="1.0" />
<line x1="217.10" y1="220.50" x2="217.10" y2="223.30" stroke="#000" stroke-width="1.1" />
<circle cx="190.90" cy="227.80" r="1.3" fill="#111"/>
<circle cx="194.70" cy="227.80" r="1.3" fill="#111"/>
<circle cx="213.30" cy="227.80" r="1.3" fill="#111"/>
<circle cx="217.10" cy="227.80" r="1.3" fill="#111"/>
<circle cx="220.90" cy="227.80" r="1.3" fill="#111"/>
<text transform="translate(62.70,252.50) rotate(-90)" x="0" y="0" font-size="9.2" text-anchor="middle" textLength="56.60" lengthAdjust="spacingAndGlyphs" stroke="#111" stroke-width="0.27" fill="#111">Calcein release</text>
<text transform="translate(73.90,252.80) rotate(-90)" x="0" y="0" font-size="9.2" text-anchor="middle" textLength="90.60" lengthAdjust="spacingAndGlyphs" stroke="#111" stroke-width="0.27" fill="#111">from untreated HUVECs</text>
<text transform="translate(85.60,252.50) rotate(-90)" x="0" y="0" font-size="9.2" text-anchor="middle" textLength="116.40" lengthAdjust="spacingAndGlyphs" stroke="#111" stroke-width="0.27" fill="#111">[Relative fluorescence 1/1000]</text>
<line x1="332.40" y1="207.50" x2="332.40" y2="296.20" stroke="#000" stroke-width="1.3" />
<line x1="329.50" y1="295.60" x2="332.40" y2="295.60" stroke="#000" stroke-width="1" />
<text x="326.80" y="299.00" font-size="8.8" text-anchor="end" textLength="4.40" lengthAdjust="spacingAndGlyphs" stroke="#111" stroke-width="0.2" fill="#111" >0</text>
<line x1="329.50" y1="278.32" x2="332.40" y2="278.32" stroke="#000" stroke-width="1" />
<text x="326.80" y="281.72" font-size="8.8" text-anchor="end" textLength="8.81" lengthAdjust="spacingAndGlyphs" stroke="#111" stroke-width="0.2" fill="#111" >10</text>
<line x1="329.50" y1="261.04" x2="332.40" y2="261.04" stroke="#000" stroke-width="1" />
<text x="326.80" y="264.44" font-size="8.8" text-anchor="end" textLength="8.81" lengthAdjust="spacingAndGlyphs" stroke="#111" stroke-width="0.2" fill="#111" >20</text>
<line x1="329.50" y1="243.76" x2="332.40" y2="243.76" stroke="#000" stroke-width="1" />
<text x="326.80" y="247.16" font-size="8.8" text-anchor="end" textLength="8.81" lengthAdjust="spacingAndGlyphs" stroke="#111" stroke-width="0.2" fill="#111" >30</text>
<line x1="329.50" y1="226.48" x2="332.40" y2="226.48" stroke="#000" stroke-width="1" />
<text x="326.80" y="229.88" font-size="8.8" text-anchor="end" textLength="8.81" lengthAdjust="spacingAndGlyphs" stroke="#111" stroke-width="0.2" fill="#111" >40</text>
<line x1="329.50" y1="209.20" x2="332.40" y2="209.20" stroke="#000" stroke-width="1" />
<text x="326.80" y="212.60" font-size="8.8" text-anchor="end" textLength="8.81" lengthAdjust="spacingAndGlyphs" stroke="#111" stroke-width="0.2" fill="#111" >50</text>
<rect x="336.10" y="246.01" width="16.20" height="49.59" fill="#666666" />
<rect x="360.60" y="236.33" width="16.20" height="59.27" fill="#666666" />
<rect x="385.10" y="238.23" width="16.20" height="57.37" fill="#666666" />
<rect x="409.50" y="239.96" width="16.20" height="55.64" fill="#666666" />
<rect x="433.90" y="245.32" width="16.20" height="50.28" fill="#666666" />
<line x1="344.20" y1="237.88" x2="344.20" y2="246.51" stroke="#000" stroke-width="1.2" />
<line x1="340.20" y1="237.88" x2="348.20" y2="237.88" stroke="#000" stroke-width="1.3" />
<line x1="368.70" y1="228.21" x2="368.70" y2="236.83" stroke="#000" stroke-width="1.2" />
<line x1="364.70" y1="228.21" x2="372.70" y2="228.21" stroke="#000" stroke-width="1.3" />
<line x1="393.20" y1="228.38" x2="393.20" y2="238.73" stroke="#000" stroke-width="1.2" />
<line x1="389.20" y1="228.38" x2="397.20" y2="228.38" stroke="#000" stroke-width="1.3" />
<line x1="417.60" y1="231.15" x2="417.60" y2="240.46" stroke="#000" stroke-width="1.2" />
<line x1="413.60" y1="231.15" x2="421.60" y2="231.15" stroke="#000" stroke-width="1.3" />
<line x1="442.00" y1="236.50" x2="442.00" y2="245.82" stroke="#000" stroke-width="1.2" />
<line x1="438.00" y1="236.50" x2="446.00" y2="236.50" stroke="#000" stroke-width="1.3" />
<line x1="332.40" y1="295.60" x2="455.80" y2="295.60" stroke="#000" stroke-width="1.3" />
<line x1="344.20" y1="295.60" x2="344.20" y2="298.50" stroke="#000" stroke-width="1" />
<line x1="368.70" y1="295.60" x2="368.70" y2="298.50" stroke="#000" stroke-width="1" />
<line x1="393.20" y1="295.60" x2="393.20" y2="298.50" stroke="#000" stroke-width="1" />
<line x1="417.60" y1="295.60" x2="417.60" y2="298.50" stroke="#000" stroke-width="1" />
<line x1="442.00" y1="295.60" x2="442.00" y2="298.50" stroke="#000" stroke-width="1" />
<text transform="translate(347.30,302.20) rotate(-90)" x="0" y="0" font-size="8.8" text-anchor="end" textLength="15.85" lengthAdjust="spacingAndGlyphs" stroke="#111" stroke-width="0.2" fill="#111">PBS</text>
<text transform="translate(371.80,302.20) rotate(-90)" x="0" y="0" font-size="8.8" text-anchor="end" textLength="12.31" lengthAdjust="spacingAndGlyphs" stroke="#111" stroke-width="0.2" fill="#111">WT</text>
<text transform="translate(396.30,302.20) rotate(-90)" x="0" y="0" font-size="8.8" text-anchor="end" textLength="27.59" lengthAdjust="spacingAndGlyphs" stroke="#111" stroke-width="0.2" fill="#111">T1184R</text>
<text transform="translate(420.70,302.20) rotate(-90)" x="0" y="0" font-size="8.8" text-anchor="end" textLength="27.15" lengthAdjust="spacingAndGlyphs" stroke="#111" stroke-width="0.2" fill="#111">L1189R</text>
<text transform="translate(445.10,302.20) rotate(-90)" x="0" y="0" font-size="8.8" text-anchor="end" textLength="27.60" lengthAdjust="spacingAndGlyphs" stroke="#111" stroke-width="0.2" fill="#111">E1198A</text>
<line x1="343.70" y1="189.60" x2="442.60" y2="189.60" stroke="#000" stroke-width="1.45" />
<line x1="368.70" y1="189.60" x2="368.70" y2="192.60" stroke="#000" stroke-width="1.0" />
<line x1="393.20" y1="189.60" x2="393.20" y2="192.60" stroke="#000" stroke-width="1.0" />
<line x1="417.60" y1="189.60" x2="417.60" y2="192.60" stroke="#000" stroke-width="1.0" />
<line x1="442.30" y1="189.60" x2="442.30" y2="192.30" stroke="#000" stroke-width="1.1" />
<text x="368.70" y="199.60" font-size="7.3" text-anchor="middle" stroke="#111" stroke-width="0.12" fill="#111" >ns</text>
<text x="393.20" y="199.60" font-size="7.3" text-anchor="middle" stroke="#111" stroke-width="0.12" fill="#111" >ns</text>
<text x="417.60" y="199.60" font-size="7.3" text-anchor="middle" stroke="#111" stroke-width="0.12" fill="#111" >ns</text>
<text x="442.00" y="199.60" font-size="7.3" text-anchor="middle" stroke="#111" stroke-width="0.12" fill="#111" >ns</text>
<line x1="369.20" y1="212.00" x2="442.60" y2="212.00" stroke="#000" stroke-width="1.45" />
<line x1="393.20" y1="212.00" x2="393.20" y2="214.80" stroke="#000" stroke-width="1.0" />
<line x1="417.60" y1="212.00" x2="417.60" y2="214.80" stroke="#000" stroke-width="1.0" />
<line x1="442.30" y1="212.00" x2="442.30" y2="214.70" stroke="#000" stroke-width="1.1" />
<text x="393.20" y="221.90" font-size="7.3" text-anchor="middle" stroke="#111" stroke-width="0.12" fill="#111" >ns</text>
<text x="417.60" y="221.90" font-size="7.3" text-anchor="middle" stroke="#111" stroke-width="0.12" fill="#111" >ns</text>
<text x="442.00" y="221.90" font-size="7.3" text-anchor="middle" stroke="#111" stroke-width="0.12" fill="#111" >ns</text>
<text transform="translate(288.90,252.30) rotate(-90)" x="0" y="0" font-size="9.2" text-anchor="middle" textLength="56.90" lengthAdjust="spacingAndGlyphs" stroke="#111" stroke-width="0.27" fill="#111">Calcein release</text>
<text transform="translate(299.90,252.60) rotate(-90)" x="0" y="0" font-size="9.2" text-anchor="middle" textLength="117.60" lengthAdjust="spacingAndGlyphs" stroke="#111" stroke-width="0.27" fill="#111">from sialidase-treated HUVECs</text>
<text transform="translate(311.20,252.90) rotate(-90)" x="0" y="0" font-size="9.2" text-anchor="middle" textLength="115.80" lengthAdjust="spacingAndGlyphs" stroke="#111" stroke-width="0.27" fill="#111">[Relative fluorescence 1/1000]</text>
<line x1="106.40" y1="345.50" x2="106.40" y2="436.60" stroke="#000" stroke-width="1.3" />
<line x1="103.50" y1="436.00" x2="106.40" y2="436.00" stroke="#000" stroke-width="1" />
<text x="100.80" y="439.40" font-size="8.8" text-anchor="end" textLength="4.40" lengthAdjust="spacingAndGlyphs" stroke="#111" stroke-width="0.2" fill="#111" >0</text>
<line x1="103.50" y1="418.66" x2="106.40" y2="418.66" stroke="#000" stroke-width="1" />
<text x="100.80" y="422.06" font-size="8.8" text-anchor="end" textLength="8.81" lengthAdjust="spacingAndGlyphs" stroke="#111" stroke-width="0.2" fill="#111" >10</text>
<line x1="103.50" y1="401.32" x2="106.40" y2="401.32" stroke="#000" stroke-width="1" />
<text x="100.80" y="404.72" font-size="8.8" text-anchor="end" textLength="8.81" lengthAdjust="spacingAndGlyphs" stroke="#111" stroke-width="0.2" fill="#111" >20</text>
<line x1="103.50" y1="383.98" x2="106.40" y2="383.98" stroke="#000" stroke-width="1" />
<text x="100.80" y="387.38" font-size="8.8" text-anchor="end" textLength="8.81" lengthAdjust="spacingAndGlyphs" stroke="#111" stroke-width="0.2" fill="#111" >30</text>
<line x1="103.50" y1="366.64" x2="106.40" y2="366.64" stroke="#000" stroke-width="1" />
<text x="100.80" y="370.04" font-size="8.8" text-anchor="end" textLength="8.81" lengthAdjust="spacingAndGlyphs" stroke="#111" stroke-width="0.2" fill="#111" >40</text>
<line x1="103.50" y1="349.30" x2="106.40" y2="349.30" stroke="#000" stroke-width="1" />
<text x="100.80" y="352.70" font-size="8.8" text-anchor="end" textLength="8.81" lengthAdjust="spacingAndGlyphs" stroke="#111" stroke-width="0.2" fill="#111" >50</text>
<rect x="109.15" y="408.90" width="8.30" height="27.10" fill="#636363" />
<rect x="123.55" y="379.70" width="8.30" height="56.30" fill="#636363" />
<rect x="137.95" y="384.90" width="8.30" height="51.10" fill="#636363" />
<rect x="152.35" y="399.10" width="8.30" height="36.90" fill="#636363" />
<rect x="166.75" y="399.10" width="8.30" height="36.90" fill="#636363" />
<rect x="181.15" y="381.30" width="8.30" height="54.70" fill="#cccccc" />
<rect x="195.55" y="406.80" width="8.30" height="29.20" fill="#cccccc" />
<rect x="209.95" y="406.80" width="8.30" height="29.20" fill="#cccccc" />
<rect x="224.35" y="387.00" width="8.30" height="49.00" fill="#cccccc" />
<rect x="238.75" y="406.80" width="8.30" height="29.20" fill="#cccccc" />
<line x1="113.30" y1="406.80" x2="113.30" y2="409.40" stroke="#000" stroke-width="1.2" />
<line x1="110.30" y1="406.80" x2="116.30" y2="406.80" stroke="#000" stroke-width="1.3" />
<line x1="127.70" y1="368.80" x2="127.70" y2="380.20" stroke="#000" stroke-width="1.2" />
<line x1="124.70" y1="368.80" x2="130.70" y2="368.80" stroke="#000" stroke-width="1.3" />
<line x1="142.10" y1="375.90" x2="142.10" y2="385.40" stroke="#000" stroke-width="1.2" />
<line x1="139.10" y1="375.90" x2="145.10" y2="375.90" stroke="#000" stroke-width="1.3" />
<line x1="156.50" y1="393.70" x2="156.50" y2="399.60" stroke="#000" stroke-width="1.2" />
<line x1="153.50" y1="393.70" x2="159.50" y2="393.70" stroke="#000" stroke-width="1.3" />
<line x1="170.90" y1="392.20" x2="170.90" y2="399.60" stroke="#000" stroke-width="1.2" />
<line x1="167.90" y1="392.20" x2="173.90" y2="392.20" stroke="#000" stroke-width="1.3" />
<line x1="185.30" y1="371.70" x2="185.30" y2="381.80" stroke="#000" stroke-width="1.2" />
<line x1="182.30" y1="371.70" x2="188.30" y2="371.70" stroke="#000" stroke-width="1.3" />
<line x1="199.70" y1="404.10" x2="199.70" y2="407.30" stroke="#000" stroke-width="1.2" />
<line x1="196.70" y1="404.10" x2="202.70" y2="404.10" stroke="#000" stroke-width="1.3" />
<line x1="214.10" y1="404.70" x2="214.10" y2="407.30" stroke="#000" stroke-width="1.2" />
<line x1="211.10" y1="404.70" x2="217.10" y2="404.70" stroke="#000" stroke-width="1.3" />
<line x1="228.50" y1="378.60" x2="228.50" y2="387.50" stroke="#000" stroke-width="1.2" />
<line x1="225.50" y1="378.60" x2="231.50" y2="378.60" stroke="#000" stroke-width="1.3" />
<line x1="242.90" y1="403.70" x2="242.90" y2="407.30" stroke="#000" stroke-width="1.2" />
<line x1="239.90" y1="403.70" x2="245.90" y2="403.70" stroke="#000" stroke-width="1.3" />
<line x1="106.40" y1="436.00" x2="253.10" y2="436.00" stroke="#000" stroke-width="1.3" />
<line x1="113.30" y1="436.00" x2="113.30" y2="438.90" stroke="#000" stroke-width="1" />
<line x1="127.70" y1="436.00" x2="127.70" y2="438.90" stroke="#000" stroke-width="1" />
<line x1="142.10" y1="436.00" x2="142.10" y2="438.90" stroke="#000" stroke-width="1" />
<line x1="156.50" y1="436.00" x2="156.50" y2="438.90" stroke="#000" stroke-width="1" />
<line x1="170.90" y1="436.00" x2="170.90" y2="438.90" stroke="#000" stroke-width="1" />
<line x1="185.30" y1="436.00" x2="185.30" y2="438.90" stroke="#000" stroke-width="1" />
<line x1="199.70" y1="436.00" x2="199.70" y2="438.90" stroke="#000" stroke-width="1" />
<line x1="214.10" y1="436.00" x2="214.10" y2="438.90" stroke="#000" stroke-width="1" />
<line x1="228.50" y1="436.00" x2="228.50" y2="438.90" stroke="#000" stroke-width="1" />
<line x1="242.90" y1="436.00" x2="242.90" y2="438.90" stroke="#000" stroke-width="1" />
<text transform="translate(116.40,443.20) rotate(-90)" x="0" y="0" font-size="8.8" text-anchor="end" textLength="15.85" lengthAdjust="spacingAndGlyphs" stroke="#111" stroke-width="0.2" fill="#111">PBS</text>
<text transform="translate(130.80,443.20) rotate(-90)" x="0" y="0" font-size="8.8" text-anchor="end" textLength="12.31" lengthAdjust="spacingAndGlyphs" stroke="#111" stroke-width="0.2" fill="#111">WT</text>
<text transform="translate(145.20,443.20) rotate(-90)" x="0" y="0" font-size="8.8" text-anchor="end" textLength="27.59" lengthAdjust="spacingAndGlyphs" stroke="#111" stroke-width="0.2" fill="#111">T1184R</text>
<text transform="translate(159.60,443.20) rotate(-90)" x="0" y="0" font-size="8.8" text-anchor="end" textLength="27.15" lengthAdjust="spacingAndGlyphs" stroke="#111" stroke-width="0.2" fill="#111">L1189R</text>
<text transform="translate(174.00,443.20) rotate(-90)" x="0" y="0" font-size="8.8" text-anchor="end" textLength="27.60" lengthAdjust="spacingAndGlyphs" stroke="#111" stroke-width="0.2" fill="#111">E1198A</text>
<text transform="translate(188.40,443.20) rotate(-90)" x="0" y="0" font-size="8.8" text-anchor="end" textLength="28.91" lengthAdjust="spacingAndGlyphs" stroke="#111" stroke-width="0.2" fill="#111">W1157L</text>
<text transform="translate(202.80,443.20) rotate(-90)" x="0" y="0" font-size="8.8" text-anchor="end" textLength="28.03" lengthAdjust="spacingAndGlyphs" stroke="#111" stroke-width="0.2" fill="#111">R1182A</text>
<text transform="translate(217.20,443.20) rotate(-90)" x="0" y="0" font-size="8.8" text-anchor="end" textLength="28.91" lengthAdjust="spacingAndGlyphs" stroke="#111" stroke-width="0.2" fill="#111">W1183L</text>
<text transform="translate(231.60,443.20) rotate(-90)" x="0" y="0" font-size="8.8" text-anchor="end" textLength="27.60" lengthAdjust="spacingAndGlyphs" stroke="#111" stroke-width="0.2" fill="#111">K1186A</text>
<text transform="translate(246.00,443.20) rotate(-90)" x="0" y="0" font-size="8.8" text-anchor="end" textLength="29.50" lengthAdjust="spacingAndGlyphs" stroke="#111" stroke-width="0.2" fill="#111">R1215Q</text>
<line x1="113.50" y1="353.90" x2="242.90" y2="353.90" stroke="#000" stroke-width="1.45" />
<line x1="127.70" y1="353.90" x2="127.70" y2="356.80" stroke="#000" stroke-width="1.0" />
<line x1="142.10" y1="353.90" x2="142.10" y2="356.80" stroke="#000" stroke-width="1.0" />
<line x1="156.50" y1="353.90" x2="156.50" y2="356.80" stroke="#000" stroke-width="1.0" />
<line x1="170.90" y1="353.90" x2="170.90" y2="356.80" stroke="#000" stroke-width="1.0" />
<line x1="185.30" y1="353.90" x2="185.30" y2="356.80" stroke="#000" stroke-width="1.0" />
<line x1="199.70" y1="353.90" x2="199.70" y2="356.80" stroke="#000" stroke-width="1.0" />
<line x1="214.10" y1="353.90" x2="214.10" y2="356.80" stroke="#000" stroke-width="1.0" />
<line x1="228.50" y1="353.90" x2="228.50" y2="356.80" stroke="#000" stroke-width="1.0" />
<line x1="242.90" y1="353.90" x2="242.90" y2="356.80" stroke="#000" stroke-width="1.0" />
<circle cx="123.90" cy="362.60" r="1.3" fill="#111"/>
<circle cx="127.70" cy="362.60" r="1.3" fill="#111"/>
<circle cx="131.50" cy="362.60" r="1.3" fill="#111"/>
<circle cx="138.30" cy="362.60" r="1.3" fill="#111"/>
<circle cx="142.10" cy="362.60" r="1.3" fill="#111"/>
<circle cx="145.90" cy="362.60" r="1.3" fill="#111"/>
<text x="156.50" y="363.60" font-size="7.3" text-anchor="middle" stroke="#111" stroke-width="0.12" fill="#111" >ns</text>
<text x="170.90" y="363.60" font-size="7.3" text-anchor="middle" stroke="#111" stroke-width="0.12" fill="#111" >ns</text>
<circle cx="181.50" cy="362.60" r="1.3" fill="#111"/>
<circle cx="185.30" cy="362.60" r="1.3" fill="#111"/>
<circle cx="189.10" cy="362.60" r="1.3" fill="#111"/>
<text x="199.70" y="363.60" font-size="7.3" text-anchor="middle" stroke="#111" stroke-width="0.12" fill="#111" >ns</text>
<text x="214.10" y="363.60" font-size="7.3" text-anchor="middle" stroke="#111" stroke-width="0.12" fill="#111" >ns</text>
<circle cx="226.60" cy="362.60" r="1.3" fill="#111"/>
<circle cx="230.40" cy="362.60" r="1.3" fill="#111"/>
<text x="242.90" y="363.60" font-size="7.3" text-anchor="middle" stroke="#111" stroke-width="0.12" fill="#111" >ns</text>
<text transform="translate(64.20,393.00) rotate(-90)" x="0" y="0" font-size="9.2" text-anchor="middle" textLength="69.40" lengthAdjust="spacingAndGlyphs" stroke="#111" stroke-width="0.27" fill="#111">C3b deposition on</text>
<text transform="translate(75.30,392.90) rotate(-90)" x="0" y="0" font-size="9.2" text-anchor="middle" textLength="69.60" lengthAdjust="spacingAndGlyphs" stroke="#111" stroke-width="0.27" fill="#111">untreated HUVECs</text>
<text transform="translate(86.60,392.90) rotate(-90)" x="0" y="0" font-size="9.2" text-anchor="middle" textLength="26.80" lengthAdjust="spacingAndGlyphs" stroke="#111" stroke-width="0.27" fill="#111">[GMFI]</text>
<line x1="332.20" y1="345.50" x2="332.20" y2="436.60" stroke="#000" stroke-width="1.3" />
<line x1="329.30" y1="436.00" x2="332.20" y2="436.00" stroke="#000" stroke-width="1" />
<text x="326.60" y="439.40" font-size="8.8" text-anchor="end" textLength="4.40" lengthAdjust="spacingAndGlyphs" stroke="#111" stroke-width="0.2" fill="#111" >0</text>
<line x1="329.30" y1="418.66" x2="332.20" y2="418.66" stroke="#000" stroke-width="1" />
<text x="326.60" y="422.06" font-size="8.8" text-anchor="end" textLength="8.81" lengthAdjust="spacingAndGlyphs" stroke="#111" stroke-width="0.2" fill="#111" >10</text>
<line x1="329.30" y1="401.32" x2="332.20" y2="401.32" stroke="#000" stroke-width="1" />
<text x="326.60" y="404.72" font-size="8.8" text-anchor="end" textLength="8.81" lengthAdjust="spacingAndGlyphs" stroke="#111" stroke-width="0.2" fill="#111" >20</text>
<line x1="329.30" y1="383.98" x2="332.20" y2="383.98" stroke="#000" stroke-width="1" />
<text x="326.60" y="387.38" font-size="8.8" text-anchor="end" textLength="8.81" lengthAdjust="spacingAndGlyphs" stroke="#111" stroke-width="0.2" fill="#111" >30</text>
<line x1="329.30" y1="366.64" x2="332.20" y2="366.64" stroke="#000" stroke-width="1" />
<text x="326.60" y="370.04" font-size="8.8" text-anchor="end" textLength="8.81" lengthAdjust="spacingAndGlyphs" stroke="#111" stroke-width="0.2" fill="#111" >40</text>
<line x1="329.30" y1="349.30" x2="332.20" y2="349.30" stroke="#000" stroke-width="1" />
<text x="326.60" y="352.70" font-size="8.8" text-anchor="end" textLength="8.81" lengthAdjust="spacingAndGlyphs" stroke="#111" stroke-width="0.2" fill="#111" >50</text>
<rect x="335.05" y="406.40" width="8.30" height="29.60" fill="#636363" />
<rect x="349.43" y="401.20" width="8.30" height="34.80" fill="#636363" />
<rect x="363.81" y="399.50" width="8.30" height="36.50" fill="#636363" />
<rect x="378.19" y="398.50" width="8.30" height="37.50" fill="#636363" />
<rect x="392.57" y="399.50" width="8.30" height="36.50" fill="#636363" />
<rect x="406.95" y="401.60" width="8.30" height="34.40" fill="#cccccc" />
<rect x="421.33" y="405.80" width="8.30" height="30.20" fill="#cccccc" />
<rect x="435.71" y="405.10" width="8.30" height="30.90" fill="#cccccc" />
<rect x="450.09" y="401.00" width="8.30" height="35.00" fill="#cccccc" />
<rect x="464.47" y="404.10" width="8.30" height="31.90" fill="#cccccc" />
<line x1="339.20" y1="403.00" x2="339.20" y2="406.90" stroke="#000" stroke-width="1.2" />
<line x1="336.20" y1="403.00" x2="342.20" y2="403.00" stroke="#000" stroke-width="1.3" />
<line x1="353.58" y1="397.80" x2="353.58" y2="401.70" stroke="#000" stroke-width="1.2" />
<line x1="350.58" y1="397.80" x2="356.58" y2="397.80" stroke="#000" stroke-width="1.3" />
<line x1="367.96" y1="396.00" x2="367.96" y2="400.00" stroke="#000" stroke-width="1.2" />
<line x1="364.96" y1="396.00" x2="370.96" y2="396.00" stroke="#000" stroke-width="1.3" />
<line x1="382.34" y1="391.10" x2="382.34" y2="399.00" stroke="#000" stroke-width="1.2" />
<line x1="379.34" y1="391.10" x2="385.34" y2="391.10" stroke="#000" stroke-width="1.3" />
<line x1="396.72" y1="396.00" x2="396.72" y2="400.00" stroke="#000" stroke-width="1.2" />
<line x1="393.72" y1="396.00" x2="399.72" y2="396.00" stroke="#000" stroke-width="1.3" />
<line x1="411.10" y1="397.40" x2="411.10" y2="402.10" stroke="#000" stroke-width="1.2" />
<line x1="408.10" y1="397.40" x2="414.10" y2="397.40" stroke="#000" stroke-width="1.3" />
<line x1="425.48" y1="402.20" x2="425.48" y2="406.30" stroke="#000" stroke-width="1.2" />
<line x1="422.48" y1="402.20" x2="428.48" y2="402.20" stroke="#000" stroke-width="1.3" />
<line x1="439.86" y1="402.00" x2="439.86" y2="405.60" stroke="#000" stroke-width="1.2" />
<line x1="436.86" y1="402.00" x2="442.86" y2="402.00" stroke="#000" stroke-width="1.3" />
<line x1="454.24" y1="396.80" x2="454.24" y2="401.50" stroke="#000" stroke-width="1.2" />
<line x1="451.24" y1="396.80" x2="457.24" y2="396.80" stroke="#000" stroke-width="1.3" />
<line x1="468.62" y1="400.50" x2="468.62" y2="404.60" stroke="#000" stroke-width="1.2" />
<line x1="465.62" y1="400.50" x2="471.62" y2="400.50" stroke="#000" stroke-width="1.3" />
<line x1="332.20" y1="436.00" x2="477.80" y2="436.00" stroke="#000" stroke-width="1.3" />
<line x1="339.20" y1="436.00" x2="339.20" y2="438.90" stroke="#000" stroke-width="1" />
<line x1="353.58" y1="436.00" x2="353.58" y2="438.90" stroke="#000" stroke-width="1" />
<line x1="367.96" y1="436.00" x2="367.96" y2="438.90" stroke="#000" stroke-width="1" />
<line x1="382.34" y1="436.00" x2="382.34" y2="438.90" stroke="#000" stroke-width="1" />
<line x1="396.72" y1="436.00" x2="396.72" y2="438.90" stroke="#000" stroke-width="1" />
<line x1="411.10" y1="436.00" x2="411.10" y2="438.90" stroke="#000" stroke-width="1" />
<line x1="425.48" y1="436.00" x2="425.48" y2="438.90" stroke="#000" stroke-width="1" />
<line x1="439.86" y1="436.00" x2="439.86" y2="438.90" stroke="#000" stroke-width="1" />
<line x1="454.24" y1="436.00" x2="454.24" y2="438.90" stroke="#000" stroke-width="1" />
<line x1="468.62" y1="436.00" x2="468.62" y2="438.90" stroke="#000" stroke-width="1" />
<text transform="translate(342.30,443.20) rotate(-90)" x="0" y="0" font-size="8.8" text-anchor="end" textLength="15.85" lengthAdjust="spacingAndGlyphs" stroke="#111" stroke-width="0.2" fill="#111">PBS</text>
<text transform="translate(356.68,443.20) rotate(-90)" x="0" y="0" font-size="8.8" text-anchor="end" textLength="12.31" lengthAdjust="spacingAndGlyphs" stroke="#111" stroke-width="0.2" fill="#111">WT</text>
<text transform="translate(371.06,443.20) rotate(-90)" x="0" y="0" font-size="8.8" text-anchor="end" textLength="27.59" lengthAdjust="spacingAndGlyphs" stroke="#111" stroke-width="0.2" fill="#111">T1184R</text>
<text transform="translate(385.44,443.20) rotate(-90)" x="0" y="0" font-size="8.8" text-anchor="end" textLength="27.15" lengthAdjust="spacingAndGlyphs" stroke="#111" stroke-width="0.2" fill="#111">L1189R</text>
<text transform="translate(399.82,443.20) rotate(-90)" x="0" y="0" font-size="8.8" text-anchor="end" textLength="27.60" lengthAdjust="spacingAndGlyphs" stroke="#111" stroke-width="0.2" fill="#111">E1198A</text>
<text transform="translate(414.20,443.20) rotate(-90)" x="0" y="0" font-size="8.8" text-anchor="end" textLength="28.91" lengthAdjust="spacingAndGlyphs" stroke="#111" stroke-width="0.2" fill="#111">W1157L</text>
<text transform="translate(428.58,443.20) rotate(-90)" x="0" y="0" font-size="8.8" text-anchor="end" textLength="28.03" lengthAdjust="spacingAndGlyphs" stroke="#111" stroke-width="0.2" fill="#111">R1182A</text>
<text transform="translate(442.96,443.20) rotate(-90)" x="0" y="0" font-size="8.8" text-anchor="end" textLength="28.91" lengthAdjust="spacingAndGlyphs" stroke="#111" stroke-width="0.2" fill="#111">W1183L</text>
<text transform="translate(457.34,443.20) rotate(-90)" x="0" y="0" font-size="8.8" text-anchor="end" textLength="27.60" lengthAdjust="spacingAndGlyphs" stroke="#111" stroke-width="0.2" fill="#111">K1186A</text>
<text transform="translate(471.72,443.20) rotate(-90)" x="0" y="0" font-size="8.8" text-anchor="end" textLength="29.50" lengthAdjust="spacingAndGlyphs" stroke="#111" stroke-width="0.2" fill="#111">R1215Q</text>
<line x1="338.00" y1="354.60" x2="468.80" y2="354.60" stroke="#000" stroke-width="1.45" />
<line x1="353.58" y1="354.60" x2="353.58" y2="357.40" stroke="#000" stroke-width="1.0" />
<line x1="367.96" y1="354.60" x2="367.96" y2="357.40" stroke="#000" stroke-width="1.0" />
<line x1="382.34" y1="354.60" x2="382.34" y2="357.40" stroke="#000" stroke-width="1.0" />
<line x1="396.72" y1="354.60" x2="396.72" y2="357.40" stroke="#000" stroke-width="1.0" />
<line x1="411.10" y1="354.60" x2="411.10" y2="357.40" stroke="#000" stroke-width="1.0" />
<line x1="425.48" y1="354.60" x2="425.48" y2="357.40" stroke="#000" stroke-width="1.0" />
<line x1="439.86" y1="354.60" x2="439.86" y2="357.40" stroke="#000" stroke-width="1.0" />
<line x1="454.24" y1="354.60" x2="454.24" y2="357.40" stroke="#000" stroke-width="1.0" />
<line x1="468.62" y1="354.60" x2="468.62" y2="357.40" stroke="#000" stroke-width="1.0" />
<text x="353.58" y="366.30" font-size="7.3" text-anchor="middle" stroke="#111" stroke-width="0.12" fill="#111" >ns</text>
<text x="367.96" y="366.30" font-size="7.3" text-anchor="middle" stroke="#111" stroke-width="0.12" fill="#111" >ns</text>
<text x="382.34" y="366.30" font-size="7.3" text-anchor="middle" stroke="#111" stroke-width="0.12" fill="#111" >ns</text>
<text x="396.72" y="366.30" font-size="7.3" text-anchor="middle" stroke="#111" stroke-width="0.12" fill="#111" >ns</text>
<text x="411.10" y="366.30" font-size="7.3" text-anchor="middle" stroke="#111" stroke-width="0.12" fill="#111" >ns</text>
<text x="425.48" y="366.30" font-size="7.3" text-anchor="middle" stroke="#111" stroke-width="0.12" fill="#111" >ns</text>
<text x="439.86" y="366.30" font-size="7.3" text-anchor="middle" stroke="#111" stroke-width="0.12" fill="#111" >ns</text>
<text x="454.24" y="366.30" font-size="7.3" text-anchor="middle" stroke="#111" stroke-width="0.12" fill="#111" >ns</text>
<text x="468.62" y="366.30" font-size="7.3" text-anchor="middle" stroke="#111" stroke-width="0.12" fill="#111" >ns</text>
<text transform="translate(289.60,393.50) rotate(-90)" x="0" y="0" font-size="9.2" text-anchor="middle" textLength="105.40" lengthAdjust="spacingAndGlyphs" stroke="#111" stroke-width="0.27" fill="#111">C3b deposition on sialidase-</text>
<text transform="translate(300.60,393.10) rotate(-90)" x="0" y="0" font-size="9.2" text-anchor="middle" textLength="61.20" lengthAdjust="spacingAndGlyphs" stroke="#111" stroke-width="0.27" fill="#111">treated HUVECs</text>
<text transform="translate(311.40,392.60) rotate(-90)" x="0" y="0" font-size="9.2" text-anchor="middle" textLength="26.80" lengthAdjust="spacingAndGlyphs" stroke="#111" stroke-width="0.27" fill="#111">[GMFI]</text>
</svg>
</body></html>
